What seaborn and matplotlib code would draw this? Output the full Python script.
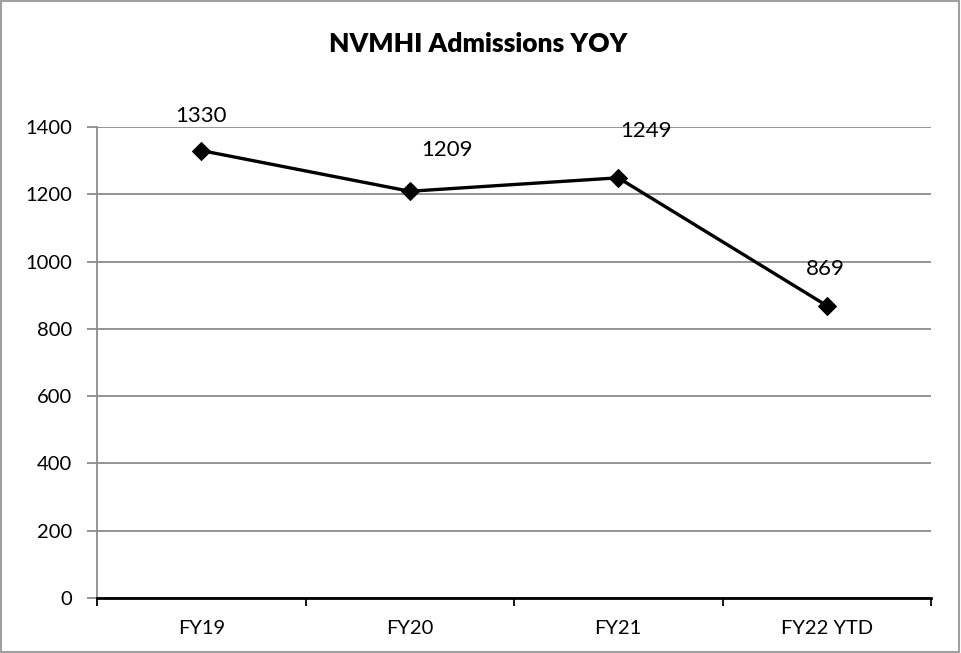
import matplotlib
matplotlib.use("Agg")
import matplotlib.pyplot as plt
import seaborn as sns
import pandas as pd
from matplotlib.patches import Rectangle

# data
years = ["FY19", "FY20", "FY21", "FY22 YTD"]
admissions = [1330, 1209, 1249, 869]
y_ticks = [0, 200, 400, 600, 800, 1000, 1200, 1400]

# label offsets in pixels (dx, dy) - Excel put them a bit all over the place
label_offsets = [(0, 35), (37, 41), (28, 47), (-1, 37)]

sns.set_theme(style="white")
plt.rcParams["font.family"] = ["Lato", "DejaVu Sans"]

df = pd.DataFrame({"year": years, "admissions": admissions})

fig = plt.figure(figsize=(9.61, 6.53), dpi=100)
ax = fig.add_axes([97 / 961, 55 / 653, 834 / 961, 471 / 653])

sns.lineplot(data=df, x="year", y="admissions", ax=ax, color="black",
             linewidth=2.4, marker="D", markersize=9.5, markeredgecolor="black",
             sort=False)

ax.set_xlim(-0.5, len(years) - 0.5)
ax.set_ylim(0, 1400)
ax.set_yticks(y_ticks)
ax.yaxis.grid(True, color="#8c8c8c", linewidth=1.3)
ax.set_axisbelow(True)

# category labels centred, tick marks between categories
ax.set_xticks(range(len(years)))
ax.set_xticklabels(years)
ax.set_xticks([i - 0.5 for i in range(len(years) + 1)], minor=True)
ax.tick_params(axis="x", which="major", length=0, pad=16, labelsize=14.5, colors="black")
ax.tick_params(axis="x", which="minor", length=6, width=1.3, color="black", bottom=True)
ax.tick_params(axis="y", length=7, width=1.3, color="#8c8c8c", pad=11,
               labelsize=14.5, labelcolor="black", left=True)

for s in ["top", "right"]:
    ax.spines[s].set_visible(False)
ax.spines["left"].set_color("#8c8c8c")
ax.spines["left"].set_linewidth(1.3)
ax.spines["bottom"].set_color("black")
ax.spines["bottom"].set_linewidth(2)

ax.set_xlabel("")
ax.set_ylabel("")

for i, v in enumerate(admissions):
    dx, dy = label_offsets[i]
    ax.annotate(str(v), (i, v), xytext=(dx, dy), textcoords="offset pixels",
                ha="center", va="center", fontsize=16, color="black")

fig.text(478 / 961, 1 - 44 / 653, "NVMHI Admissions YOY", ha="center", va="center",
         fontsize=19, fontweight="heavy", color="black")

# outer chart border
fig.patches.append(Rectangle((0.001, 0.001), 0.997, 0.997, transform=fig.transFigure,
                             fill=False, edgecolor="#a0a0a0", linewidth=1.5))

fig.savefig("out.png", dpi=100)
